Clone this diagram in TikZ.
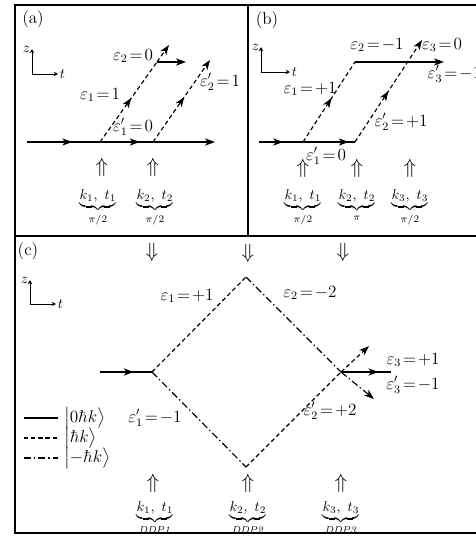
\documentclass[tikz,border=0pt]{standalone}
\usepackage{amsmath}
\usepackage{tikz}
\usetikzlibrary{arrows.meta,decorations.markings}
\thickmuskip=2mu

\begin{document}
\begin{tikzpicture}[x=0.7pt, y=-0.7pt,
  frame/.style={draw, line width=1pt},
  zeroline/.style={draw, line width=0.8pt},
  plusline/.style={draw, line width=0.8pt, dash pattern=on 3pt off 2pt},
  minusline/.style={draw, line width=0.8pt, dash pattern=on 5pt off 2pt on 1pt off 2pt},
  tip/.style={-{Stealth[length=7pt,width=5pt,inset=2pt]}},
  midtip/.style={postaction={decorate,decoration={markings,
      mark=at position #1 with {\arrow{Stealth[length=7pt,width=5pt,inset=2pt]}}}}},
  axis/.style={draw, line width=0.5pt, -{Stealth[length=3pt,width=3pt]}},
  lab/.style={font=\large},
  eps/.style={inner sep=1pt, font=\large},
  kick/.style={font=\Large, inner sep=0pt},
  pulse/.style={anchor=north, inner sep=0pt},
  key/.style={anchor=west, inner sep=0pt, font=\large}
]
\useasboundingbox (0,0) rectangle (476,536);
\clip (0,0) rectangle (476,536);

\draw[frame] (15,5) rectangle (495,533);
\draw[frame] (248,5) -- (248,236);
\draw[frame] (15,236) -- (495,236);

% (a)
\node[lab] (lab-a) at (33,19) {(a)};
\coordinate (a-o) at (32,74);
\draw[axis] (a-o) -- (32,49) node[left, inner sep=1pt] (a-z) {$z$};
\draw[axis] (a-o) -- (58,74) node[right, inner sep=1pt] (a-t) {$t$};

\coordinate (a-in) at (27,142);
\coordinate (a-s1) at (100,142);
\coordinate (a-s2) at (153,142);
\coordinate (a-out) at (215,142);
\coordinate (a-top) at (157,62);
\coordinate (a-up) at (169,45);
\coordinate (a-right) at (186,62);
\coordinate (a-tip) at (210,60);

\draw[zeroline, midtip=0.62] (a-in) -- (a-s1);
\draw[zeroline, midtip=0.75] (a-s1) -- (a-s2);
\draw[zeroline, tip] (a-s2) -- (a-out);
\draw[plusline, midtip=0.55] (a-s1) -- (a-top);
\draw[plusline, tip] (a-top) -- (a-up);
\draw[zeroline, tip] (a-top) -- (a-right);
\draw[plusline, midtip=0.55, tip] (a-s2) -- (a-tip);

\node[eps] (a-e2) at (133,56) {$\varepsilon_2=0$};
\node[eps] (a-e1) at (100,95) {$\varepsilon_1=1$};
\node[eps] (a-e1p) at (133,127) {$\varepsilon'_1=0$};
\node[eps] (a-e2p) at (220,82) {$\varepsilon'_2=1$};

\node[kick] (a-k1) at (102,167) {$\Uparrow$};
\node[kick] (a-k2) at (153,167) {$\Uparrow$};
\node[pulse] (a-p1) at (98,189) {$\underbrace{k_1,\ t_1}_{\pi/2}$};
\node[pulse] (a-p2) at (155,189) {$\underbrace{k_2,\ t_2}_{\pi/2}$};

% (b)
\node[lab] (lab-b) at (267,20) {(b)};
\coordinate (b-o) at (261,72);
\draw[axis] (b-o) -- (261,47) node[left, inner sep=1pt] (b-z) {$z$};
\draw[axis] (b-o) -- (290,72) node[right, inner sep=1pt] (b-t) {$t$};

\coordinate (b-in) at (259,142);
\coordinate (b-s1) at (303,142);
\coordinate (b-s2) at (355,142);
\coordinate (b-top) at (355,62);
\coordinate (b-out) at (444,62);
\coordinate (b-tip) at (422,40);

\draw[zeroline, midtip=0.55] (b-in) -- (b-s1);
\draw[zeroline, midtip=0.88] (b-s1) -- (b-s2);
\draw[plusline, midtip=0.55] (b-s1) -- (b-top);
\draw[zeroline, tip] (b-top) -- (b-out);
\draw[plusline, midtip=0.5, tip] (b-s2) -- (b-tip);

\node[eps] (b-e2) at (377,45) {$\varepsilon_2=-1$};
\node[eps] (b-e3) at (442,45) {$\varepsilon_3=0$};
\node[eps, anchor=west] (b-e3p) at (426,74) {$\varepsilon'_3=-1$};
\node[eps] (b-e1) at (310,89) {$\varepsilon_1=+1$};
\node[eps] (b-e2p) at (401,122) {$\varepsilon'_2=+1$};
\node[eps] (b-e1p) at (326,156) {$\varepsilon'_1=0$};

\node[kick] (b-k1) at (303,168) {$\Uparrow$};
\node[kick] (b-k2) at (357,168) {$\Uparrow$};
\node[kick] (b-k3) at (410,168) {$\Uparrow$};
\node[pulse] (b-p1) at (303,189) {$\underbrace{k_1,\ t_1}_{\pi/2}$};
\node[pulse] (b-p2) at (357,189) {$\underbrace{k_2,\ t_2}_{\pi}$};
\node[pulse] (b-p3) at (410,189) {$\underbrace{k_3,\ t_3}_{\pi/2}$};

% (c)
\node[lab] (lab-c) at (28,251) {(c)};
\node[kick] (c-d1) at (152,252) {$\Downarrow$};
\node[kick] (c-d2) at (248,253) {$\Downarrow$};
\node[kick] (c-d3) at (343,252) {$\Downarrow$};

\coordinate (c-o) at (30,304);
\draw[axis] (c-o) -- (30,280) node[left, inner sep=1pt] (c-z) {$z$};
\draw[axis] (c-o) -- (56,304) node[right, inner sep=1pt] (c-t) {$t$};

\coordinate (c-in) at (100,372);
\coordinate (c-L) at (152,372);
\coordinate (c-T) at (246,277);
\coordinate (c-R) at (341,372);
\coordinate (c-B) at (246,467);
\coordinate (c-out) at (391,372);
\coordinate (c-up) at (369,346);
\coordinate (c-dn) at (374,399);

\draw[zeroline, line width=1.2pt, midtip=0.65] (c-in) -- (c-L);
\draw[plusline] (c-L) -- (c-T);
\draw[minusline] (c-T) -- (c-R);
\draw[minusline] (c-L) -- (c-B);
\draw[plusline] (c-B) -- (c-R);
\draw[zeroline, line width=1.2pt, midtip=0.75] (c-R) -- (c-out);
\draw[plusline, tip] (c-R) -- (c-up);
\draw[minusline, tip] (c-R) -- (c-dn);

\node[eps] (c-e1) at (187,296) {$\varepsilon_1=+1$};
\node[eps] (c-e2) at (310,293) {$\varepsilon_2=-2$};
\node[eps] (c-e3) at (413,360) {$\varepsilon_3=+1$};
\node[eps] (c-e3p) at (413,385) {$\varepsilon'_3=-1$};
\node[eps] (c-e2p) at (330,411) {$\varepsilon'_2=+2$};
\node[eps] (c-e1p) at (155,418) {$\varepsilon'_1=-1$};

\coordinate (g0) at (24,418);
\coordinate (g1) at (24,438);
\coordinate (g2) at (24,458);
\node[key] (g0-txt) at (64,418) {$\bigl|0\hbar k\bigr\rangle$};
\node[key] (g1-txt) at (64,438) {$\bigl|\hbar k\bigr\rangle$};
\node[key] (g2-txt) at (64,458) {$\bigl|{-\hbar k}\bigr\rangle$};
\draw[zeroline, shorten >=4pt] (g0) -- (g0-txt.west |- g0);
\draw[plusline, shorten >=4pt] (g1) -- (g1-txt.west |- g1);
\draw[minusline, shorten >=4pt] (g2) -- (g2-txt.west |- g2);

\node[kick] (c-k1) at (153,483) {$\Uparrow$};
\node[kick] (c-k2) at (248,483) {$\Uparrow$};
\node[kick] (c-k3) at (341,483) {$\Uparrow$};
\node[pulse] (c-p1) at (155,501) {$\underbrace{k_1,\ t_1}_{\mathit{DDP1}}$};
\node[pulse] (c-p2) at (248,501) {$\underbrace{k_2,\ t_2}_{\mathit{DDP2}}$};
\node[pulse] (c-p3) at (341,501) {$\underbrace{k_3,\ t_3}_{\mathit{DDP3}}$};
\end{tikzpicture}
\end{document}
